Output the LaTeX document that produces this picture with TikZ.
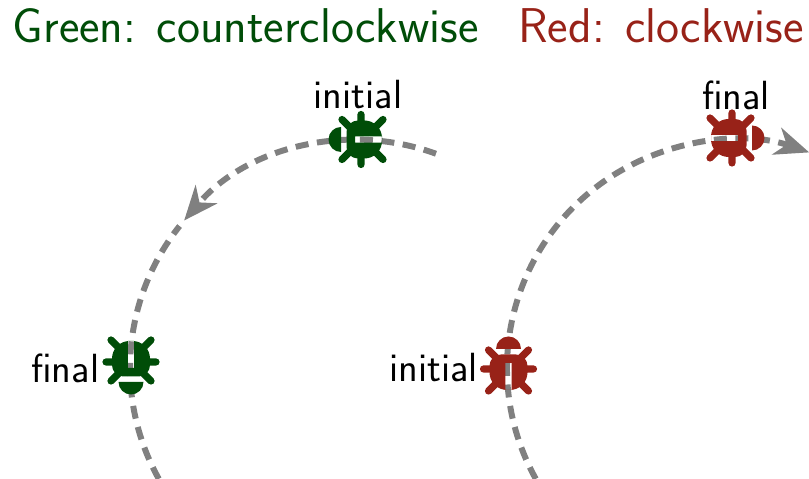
\documentclass[tikz,border=0pt]{standalone}
\usepackage{amsmath,amssymb}
\usetikzlibrary{arrows.meta,positioning}
\definecolor{bugreen}{RGB}{0,77,8}
\definecolor{bugred}{RGB}{152,34,24}
\definecolor{pathgray}{RGB}{128,128,128}
\tikzset{
  titletext/.style={font=\sffamily\fontsize{27.8}{32}\selectfont,inner sep=0pt,anchor=base west},
  bugtext/.style={font=\sffamily\fontsize{23.2}{27}\selectfont,text=black,inner sep=0pt},
  bugpath/.style={line width=3.4pt,pathgray,dash pattern=on 7.4pt off 4.88pt},
  bugtip/.style={-{Stealth[length=19.5pt,width=16pt,inset=6pt]}},
  pics/bugpic/.style={code={
    \draw[#1,line width=4.1pt,line cap=round] (-25,0) -- (-10,0) (25,0) -- (10,0)
      (-20,19) -- (-10,9) (20,19) -- (10,9) (-20,-22) -- (-10,-12) (20,-22) -- (10,-12);
    \fill[#1,even odd rule] (-19,-4) [rounded corners=6.5pt] -- (-19,14.5) -- (19,14.5)
      [sharp corners] -- (19,-4) [rounded corners=10pt] -- (19,-21) -- (-19,-21) [sharp corners] -- cycle
      (-3.2,-21) rectangle (3.2,6);
    \fill[#1] (-12.5,20) arc[start angle=180,end angle=0,radius=12.5] -- cycle;
  }}
}
\begin{document}
\begin{tikzpicture}[x=0.02cm,y=0.02cm]
\useasboundingbox (0,0) rectangle (809,479);
\coordinate (centerGreen) at (358,111);
\coordinate (centerRed) at (735,111);

% Titles
\node[titletext,text=bugreen] (titleGreen) at (12.5,436) {Green: counterclockwise};
\node[titletext,text=bugred] (titleRed) at (518,436) {Red: clockwise};

% Green bug
\draw[bugpath,bugtip] (centerGreen) ++(70:228) arc[start angle=70,end angle=139.7,radius=228];
\draw[bugpath] (centerGreen) ++(209.1:228) arc[start angle=209.1,end angle=141.5,radius=228];
\pic[rotate=90] at (361,339.5) {bugpic=bugreen};
\pic[rotate=180] at (131,117) {bugpic=bugreen};
\node[bugtext] (initialGreen) at (358,384) {initial};
\node[bugtext,anchor=east] (finalGreen) at (99.5,111) {final};

% Red bug
\draw[bugpath,bugtip] (centerRed) ++(209.1:228) arc[start angle=209.1,end angle=71,radius=228];
\pic at (508.5,110) {bugpic=bugred};
\pic[rotate=-90] at (732,341) {bugpic=bugred};
\node[bugtext] (finalRed) at (736,384) {final};
\node[bugtext,anchor=east] (initialRed) at (478,111) {initial};
\end{tikzpicture}
\end{document}
